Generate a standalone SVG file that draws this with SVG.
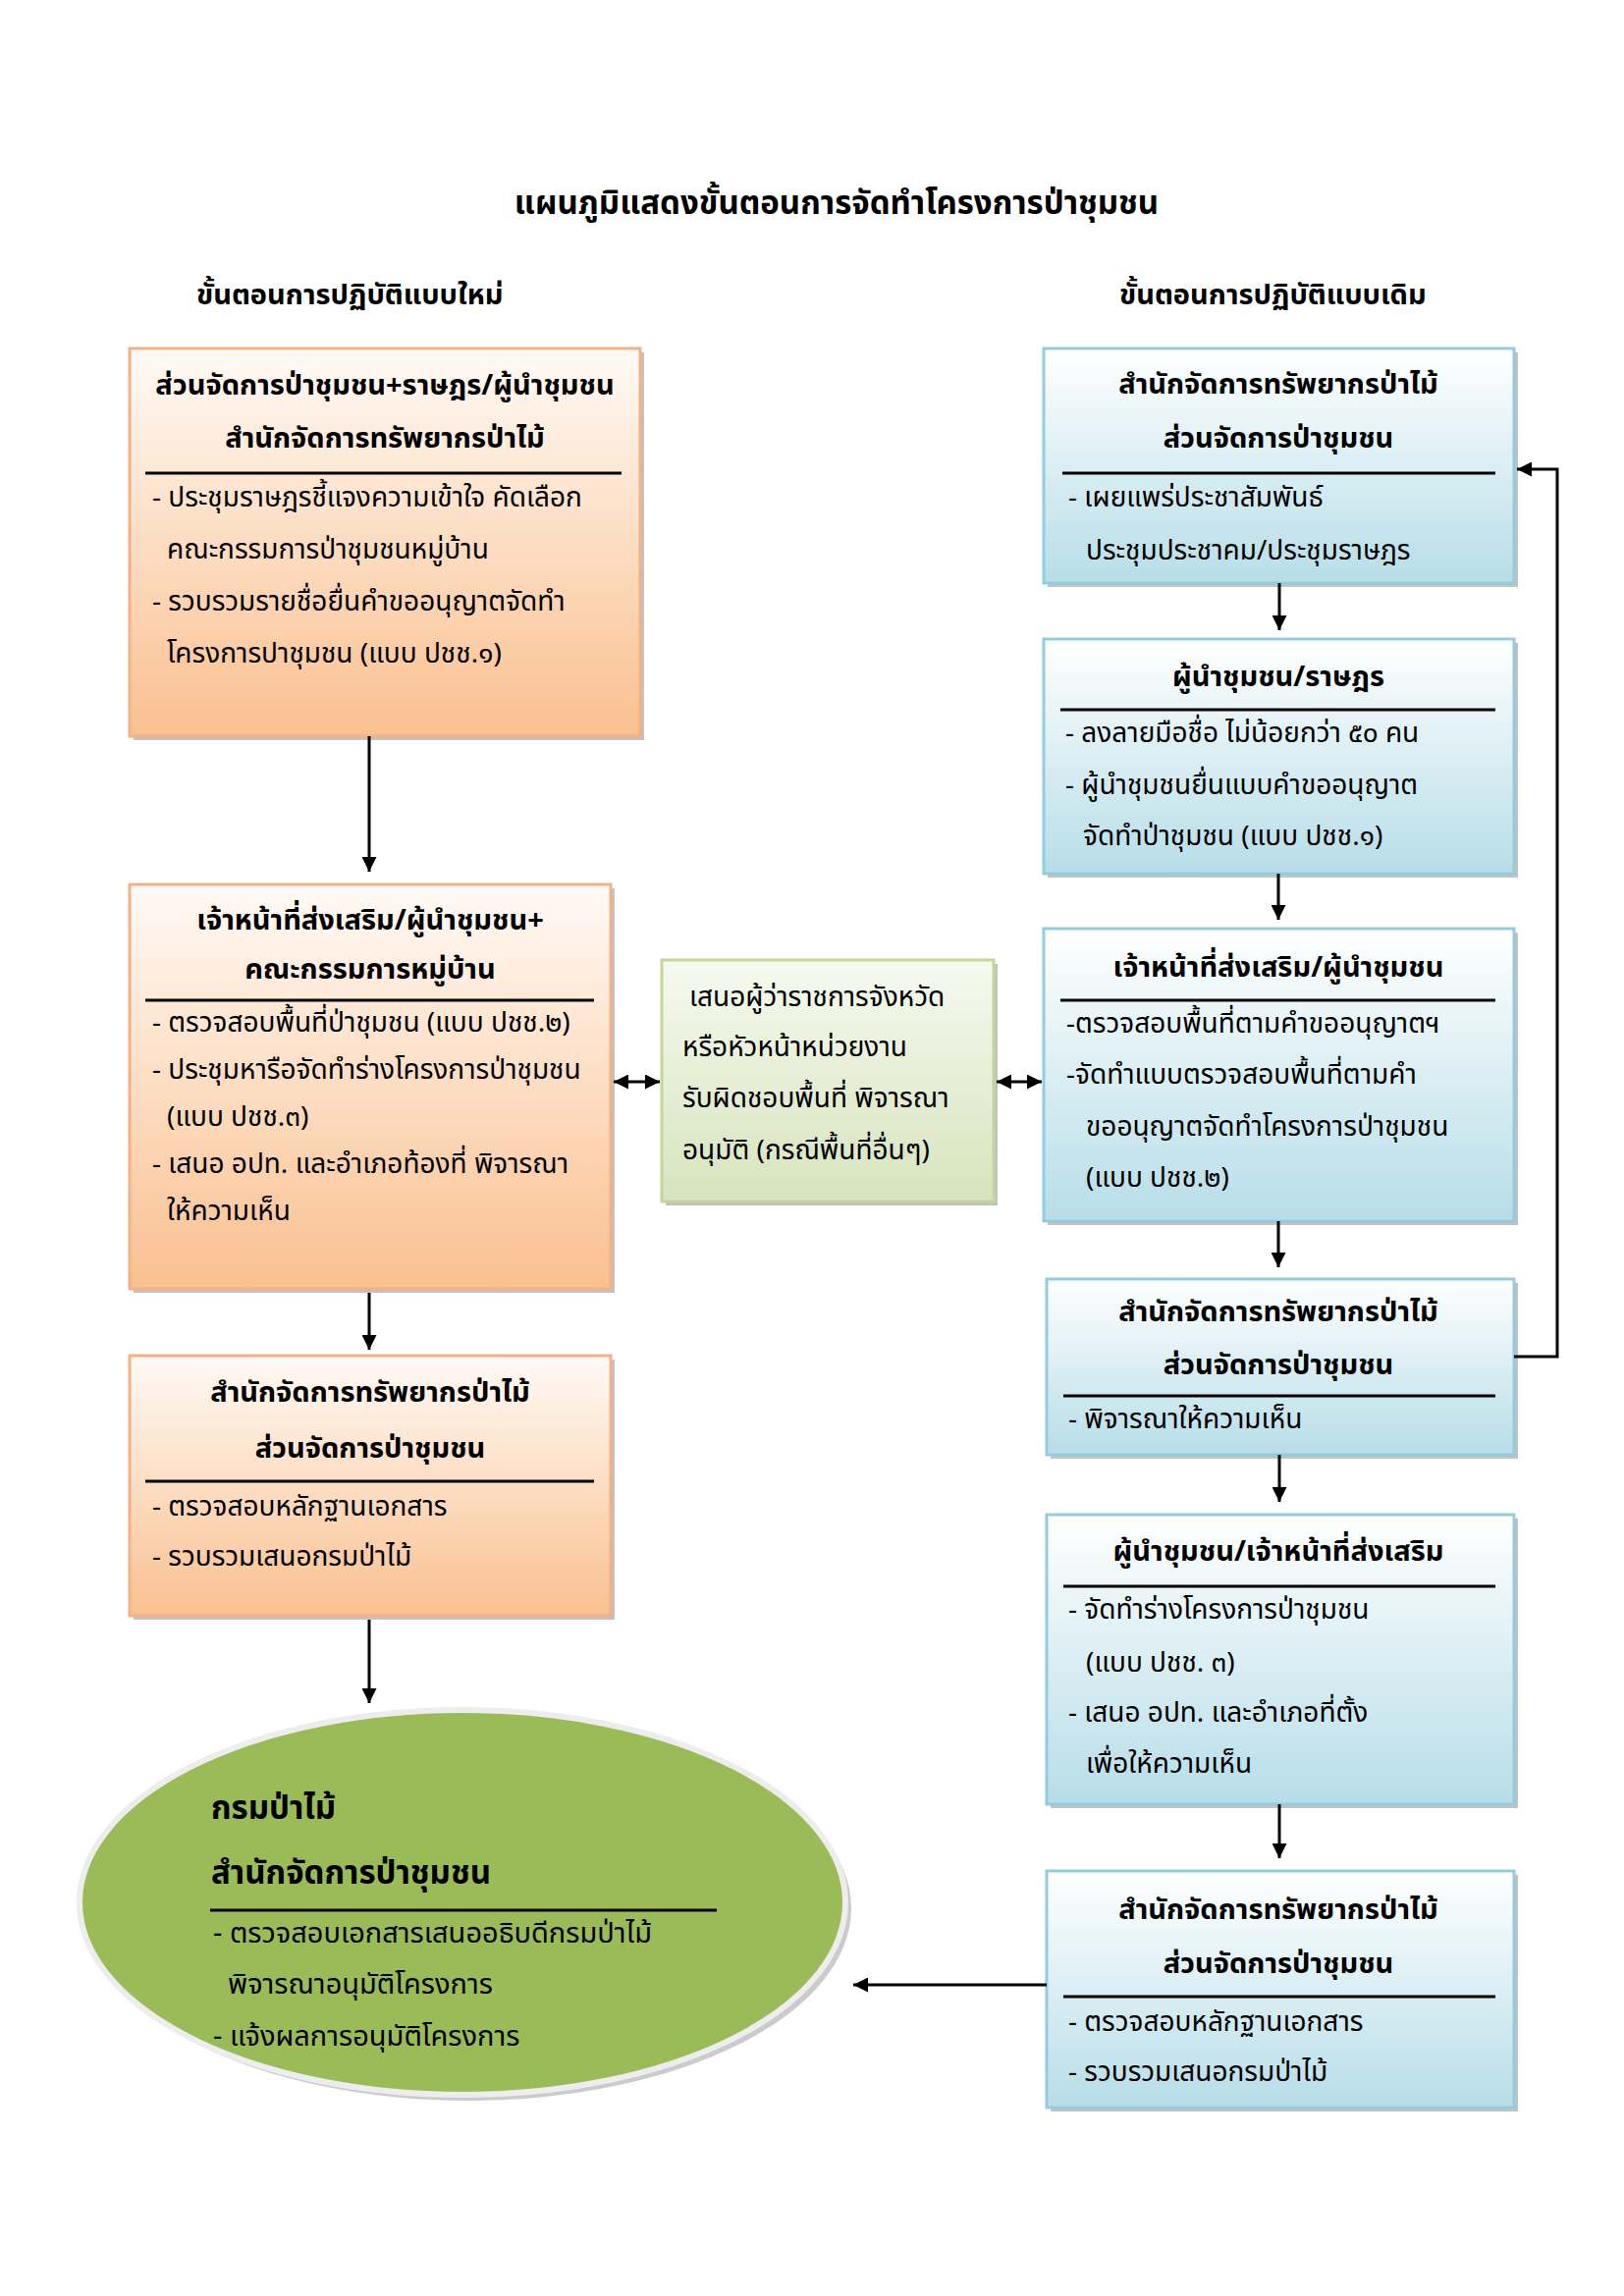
<svg xmlns="http://www.w3.org/2000/svg" width="1654" height="2339" viewBox="0 0 1654 2339">
<defs>
<linearGradient id="gOrange" x1="0" y1="0" x2="0" y2="1">
<stop offset="0" stop-color="#FFFAF6"/>
<stop offset="1" stop-color="#FAC08F"/>
</linearGradient>
<linearGradient id="gBlue" x1="0" y1="0" x2="0" y2="1">
<stop offset="0" stop-color="#FFFFFF"/>
<stop offset="1" stop-color="#B7DDE8"/>
</linearGradient>
<linearGradient id="gGreen" x1="0" y1="0" x2="0" y2="1">
<stop offset="0" stop-color="#F6F9EF"/>
<stop offset="1" stop-color="#D7E4BD"/>
</linearGradient>
<marker id="ah" viewBox="0 0 10 10" refX="10" refY="5" markerWidth="5" markerHeight="5" orient="auto-start-reverse" markerUnits="strokeWidth">
<path d="M0,0 L10,5 L0,10 z" fill="#000"/>
</marker>
<style>
text{font-family:'Noto Sans Thai','Noto Sans Thai Looped','Loma','Garuda','Tlwg Typo','Noto Sans','DejaVu Sans',sans-serif;fill:#000}
.title{font-size:33px;font-weight:bold;text-anchor:middle}
.sub{font-size:29px;font-weight:bold}
.hd{font-size:29px;font-weight:bold;text-anchor:middle}
.bd{font-size:28px}
.ebd{font-size:29px}
.ehd{font-size:33px;font-weight:bold}
.shadow{fill:#9a9a9a;opacity:0.6}
.or{fill:url(#gOrange);stroke:#F4B183;stroke-width:3}
.bl{fill:url(#gBlue);stroke:#93CDDD;stroke-width:3}
.gr{fill:url(#gGreen);stroke:#C3D69B;stroke-width:3}
.rule{stroke:#000;stroke-width:3}
.con{stroke:#000;stroke-width:3;fill:none}
</style>
</defs>
<rect width="1654" height="2339" fill="#fff"/>

<text class="title" x="852" y="218">แผนภูมิแสดงขั้นตอนการจัดทำโครงการป่าชุมชน</text>
<text class="sub" x="200" y="310">ขั้นตอนการปฏิบัติแบบใหม่</text>
<text class="sub" x="1140" y="310">ขั้นตอนการปฏิบัติแบบเดิม</text>

<g id="L1">
<rect class="shadow" x="136" y="359" width="520" height="395"/>
<rect class="or" x="132" y="355" width="520" height="395"/>
<text class="hd" x="392" y="402">ส่วนจัดการป่าชุมชน+ราษฎร/ผู้นำชุมชน</text>
<text class="hd" x="392" y="456">สำนักจัดการทรัพยากรป่าไม้</text>
<line class="rule" x1="148" y1="482" x2="633" y2="482"/>
<text class="bd" x="155" y="516">- ประชุมราษฎรชี้แจงความเข้าใจ คัดเลือก</text>
<text class="bd" x="170" y="569">คณะกรรมการป่าชุมชนหมู่บ้าน</text>
<text class="bd" x="155" y="622">- รวบรวมรายชื่อยื่นคำขออนุญาตจัดทำ</text>
<text class="bd" x="170" y="675">โครงการปาชุมชน (แบบ ปชช.๑)</text>
</g>

<g id="L2">
<rect class="shadow" x="136" y="905" width="490" height="412"/>
<rect class="or" x="132" y="901" width="490" height="412"/>
<text class="hd" x="377" y="947">เจ้าหน้าที่ส่งเสริม/ผู้นำชุมชน+</text>
<text class="hd" x="377" y="997">คณะกรรมการหมู่บ้าน</text>
<line class="rule" x1="148" y1="1019" x2="605" y2="1019"/>
<text class="bd" x="155" y="1051">- ตรวจสอบพื้นที่ป่าชุมชน (แบบ ปชช.๒)</text>
<text class="bd" x="155" y="1099">- ประชุมหารือจัดทำร่างโครงการป่าชุมชน</text>
<text class="bd" x="170" y="1147">(แบบ ปชช.๓)</text>
<text class="bd" x="155" y="1195">- เสนอ อปท. และอำเภอท้องที่ พิจารณา</text>
<text class="bd" x="170" y="1243">ให้ความเห็น</text>
</g>

<g id="L3">
<rect class="shadow" x="136" y="1385" width="490" height="265"/>
<rect class="or" x="132" y="1381" width="490" height="265"/>
<text class="hd" x="377" y="1428">สำนักจัดการทรัพยากรป่าไม้</text>
<text class="hd" x="377" y="1485">ส่วนจัดการป่าชุมชน</text>
<line class="rule" x1="148" y1="1509" x2="605" y2="1509"/>
<text class="bd" x="155" y="1544">- ตรวจสอบหลักฐานเอกสาร</text>
<text class="bd" x="155" y="1595">- รวบรวมเสนอกรมป่าไม้</text>
</g>

<g id="G1">
<rect class="shadow" x="678" y="982" width="338" height="246"/>
<rect class="gr" x="674" y="978" width="338" height="246"/>
<text class="bd" x="702" y="1025">เสนอผู้ว่าราชการจังหวัด</text>
<text class="bd" x="695" y="1076">หรือหัวหน้าหน่วยงาน</text>
<text class="bd" x="695" y="1128">รับผิดชอบพื้นที่ พิจารณา</text>
<text class="bd" x="695" y="1181">อนุมัติ (กรณีพื้นที่อื่นๆ)</text>
</g>

<g id="R1">
<rect class="shadow" x="1067" y="359" width="479" height="239"/>
<rect class="bl" x="1063" y="355" width="479" height="239"/>
<text class="hd" x="1302" y="401">สำนักจัดการทรัพยากรป่าไม้</text>
<text class="hd" x="1302" y="456">ส่วนจัดการป่าชุมชน</text>
<line class="rule" x1="1082" y1="482" x2="1523" y2="482"/>
<text class="bd" x="1088" y="516">- เผยแพร่ประชาสัมพันธ์</text>
<text class="bd" x="1106" y="570">ประชุมประชาคม/ประชุมราษฎร</text>
</g>

<g id="R2">
<rect class="shadow" x="1067" y="655" width="479" height="239"/>
<rect class="bl" x="1063" y="651" width="479" height="239"/>
<text class="hd" x="1302" y="699">ผู้นำชุมชน/ราษฎร</text>
<line class="rule" x1="1080" y1="723" x2="1523" y2="723"/>
<text class="bd" x="1085" y="756">- ลงลายมือชื่อ ไม่น้อยกว่า ๕๐ คน</text>
<text class="bd" x="1085" y="809">- ผู้นำชุมชนยื่นแบบคำขออนุญาต</text>
<text class="bd" x="1103" y="861">จัดทำป่าชุมชน (แบบ ปชช.๑)</text>
</g>

<g id="R3">
<rect class="shadow" x="1067" y="950" width="479" height="298"/>
<rect class="bl" x="1063" y="946" width="479" height="298"/>
<text class="hd" x="1302" y="995">เจ้าหน้าที่ส่งเสริม/ผู้นำชุมชน</text>
<line class="rule" x1="1080" y1="1019" x2="1523" y2="1019"/>
<text class="bd" x="1086" y="1052">-ตรวจสอบพื้นที่ตามคำขออนุญาตฯ</text>
<text class="bd" x="1086" y="1104">-จัดทำแบบตรวจสอบพื้นที่ตามคำ</text>
<text class="bd" x="1106" y="1157">ขออนุญาตจัดทำโครงการป่าชุมชน</text>
<text class="bd" x="1106" y="1209">(แบบ ปชช.๒)</text>
</g>

<g id="R4">
<rect class="shadow" x="1070" y="1307" width="476" height="179"/>
<rect class="bl" x="1066" y="1303" width="476" height="179"/>
<text class="hd" x="1302" y="1346">สำนักจัดการทรัพยากรป่าไม้</text>
<text class="hd" x="1302" y="1400">ส่วนจัดการป่าชุมชน</text>
<line class="rule" x1="1083" y1="1422" x2="1523" y2="1422"/>
<text class="bd" x="1088" y="1455">- พิจารณาให้ความเห็น</text>
</g>

<g id="R5">
<rect class="shadow" x="1070" y="1547" width="476" height="295"/>
<rect class="bl" x="1066" y="1543" width="476" height="295"/>
<text class="hd" x="1302" y="1590">ผู้นำชุมชน/เจ้าหน้าที่ส่งเสริม</text>
<line class="rule" x1="1083" y1="1616" x2="1523" y2="1616"/>
<text class="bd" x="1088" y="1649">- จัดทำร่างโครงการป่าชุมชน</text>
<text class="bd" x="1106" y="1703">(แบบ ปชช. ๓)</text>
<text class="bd" x="1088" y="1754">- เสนอ อปท. และอำเภอที่ตั้ง</text>
<text class="bd" x="1106" y="1806">เพื่อให้ความเห็น</text>
</g>

<g id="R6">
<rect class="shadow" x="1070" y="1910" width="476" height="241"/>
<rect class="bl" x="1066" y="1906" width="476" height="241"/>
<text class="hd" x="1302" y="1955">สำนักจัดการทรัพยากรป่าไม้</text>
<text class="hd" x="1302" y="2010">ส่วนจัดการป่าชุมชน</text>
<line class="rule" x1="1083" y1="2034" x2="1523" y2="2034"/>
<text class="bd" x="1088" y="2069">- ตรวจสอบหลักฐานเอกสาร</text>
<text class="bd" x="1088" y="2120">- รวบรวมเสนอกรมป่าไม้</text>
</g>

<g id="E1">
<ellipse cx="477" cy="1944" rx="390" ry="196" fill="#8c8c8c" opacity="0.45"/>
<ellipse cx="471" cy="1938" rx="390" ry="196" fill="#9BBB59" stroke="#EDEDED" stroke-width="6"/>
<text class="ehd" x="215" y="1853">กรมป่าไม้</text>
<text class="ehd" x="215" y="1919">สำนักจัดการป่าชุมชน</text>
<line class="rule" x1="214" y1="1946" x2="730" y2="1946"/>
<text class="ebd" x="217" y="1979">- ตรวจสอบเอกสารเสนออธิบดีกรมป่าไม้</text>
<text class="ebd" x="232" y="2031">พิจารณาอนุมัติโครงการ</text>
<text class="ebd" x="217" y="2084">- แจ้งผลการอนุมัติโครงการ</text>
</g>

<g id="connectors">
<line class="con" x1="376" y1="750" x2="376" y2="888" marker-end="url(#ah)"/>
<line class="con" x1="376" y1="1317" x2="376" y2="1375" marker-end="url(#ah)"/>
<line class="con" x1="376" y1="1650" x2="376" y2="1735" marker-end="url(#ah)"/>
<line class="con" x1="625" y1="1102" x2="672" y2="1102" marker-start="url(#ah)" marker-end="url(#ah)"/>
<line class="con" x1="1015" y1="1102" x2="1061" y2="1102" marker-start="url(#ah)" marker-end="url(#ah)"/>
<line class="con" x1="1303" y1="594" x2="1303" y2="642" marker-end="url(#ah)"/>
<line class="con" x1="1302" y1="890" x2="1302" y2="937" marker-end="url(#ah)"/>
<line class="con" x1="1302" y1="1244" x2="1302" y2="1291" marker-end="url(#ah)"/>
<line class="con" x1="1303" y1="1482" x2="1303" y2="1530" marker-end="url(#ah)"/>
<line class="con" x1="1303" y1="1838" x2="1303" y2="1893" marker-end="url(#ah)"/>
<polyline class="con" points="1542,1382 1586,1382 1586,478 1545,478" marker-end="url(#ah)"/>
<line class="con" x1="1066" y1="2022" x2="869" y2="2022" marker-end="url(#ah)"/>
</g>
</svg>
